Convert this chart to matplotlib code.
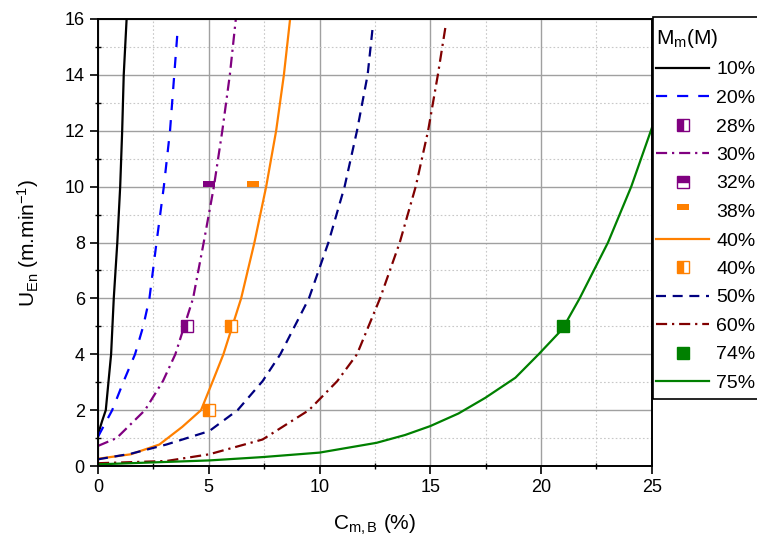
import matplotlib.pyplot as plt
from matplotlib.lines import Line2D
from matplotlib.patches import Rectangle

plt.rcParams['font.family'] = ['Liberation Sans', 'DejaVu Sans']
plt.rcParams['mathtext.fontset'] = 'custom'
plt.rcParams['mathtext.rm'] = 'Liberation Sans'
plt.rcParams['mathtext.it'] = 'Liberation Sans:italic'

# curves: C_m,B (%) vs U_En (m/min)
x10 = [0, 0.18, 0.35, 0.47, 0.59, 0.71, 0.87, 1.0, 1.09, 1.16, 1.29]
y10 = [1.13, 1.6, 2.0, 3.0, 4.0, 6.0, 8.0, 10.0, 12.0, 14.0, 16.0]

x20 = [0, 0.64, 1.16, 1.67, 2.04, 2.32, 2.64, 2.97, 3.25, 3.44, 3.6]
y20 = [1.05, 2.0, 3.04, 4.0, 5.0, 6.0, 8.0, 10.0, 12.0, 14.0, 15.67]

x30 = [0, 0.84, 2.12, 2.93, 3.49, 3.89, 4.29, 4.77, 5.23, 5.61, 5.95, 6.22]
y30 = [0.72, 1.0, 2.0, 3.04, 4.0, 5.0, 6.0, 8.0, 10.0, 12.0, 14.0, 16.0]

x40 = [0, 1.48, 2.77, 3.8, 4.65, 5.18, 5.66, 6.06, 6.46, 7.06, 7.59, 8.04, 8.39, 8.67]
y40 = [0.26, 0.42, 0.77, 1.4, 2.0, 3.04, 4.0, 5.0, 6.0, 8.0, 10.0, 12.0, 14.0, 16.0]

x50 = [0, 1.48, 3.09, 5.02, 6.3, 7.43, 8.23, 9.52, 10.4, 11.13, 11.69, 12.17, 12.41]
y50 = [0.24, 0.44, 0.77, 1.25, 2.0, 3.04, 4.0, 6.0, 8.0, 10.0, 12.0, 14.0, 15.79]

x60 = [0, 3.09, 5.02, 7.43, 9.52, 10.8, 11.69, 12.73, 13.62, 14.34, 14.9, 15.34, 15.71]
y60 = [0.1, 0.18, 0.42, 0.95, 2.0, 3.04, 4.0, 6.0, 8.0, 10.0, 12.0, 14.0, 15.85]

x75 = [0, 5.02, 7.43, 10, 12.57, 13.86, 15, 16.27, 17.48, 18.84, 19.89, 20.96, 21.74, 23.02, 24.07, 25]
y75 = [0.06, 0.2, 0.32, 0.48, 0.83, 1.11, 1.43, 1.88, 2.44, 3.16, 4.0, 4.9, 6.0, 8.0, 10.0, 12.1]

# measured points
x28, y28 = [4.0], [5.0]
x32, y32 = [5.02], [10.0]
x38, y38 = [7.0], [10.0]
x40p, y40p = [6.0, 5.0], [5.0, 2.0]
x74, y74 = [21.0], [5.0]

fig = plt.figure(figsize=(7.57, 5.41), dpi=100)
ax = fig.add_axes([0.1295, 0.1386, 0.7316, 0.8263])

lw = 1.6
ms = 8.5
ax.plot(x10, y10, color='black', lw=lw, label='10%')
ax.plot(x20, y20, color='#0000ff', lw=lw, ls=(0, (5, 4.5)), label='20%')
ax.plot(x28, y28, ls='none', marker='s', ms=ms, color='#800080', fillstyle='left',
        markerfacecoloralt='white', mec='#800080', mew=1, label='28%')
ax.plot(x30, y30, color='#800080', lw=lw, ls=(0, (5, 2.2, 1, 2.2)), label='30%')
ax.plot(x32, y32, ls='none', marker='s', ms=ms, color='#800080', fillstyle='top',
        markerfacecoloralt='none', mew=0, label='32%')
ax.plot(x38, y38, ls='none', marker='s', ms=ms, color='#ff8000', fillstyle='top',
        markerfacecoloralt='none', mew=0, label='38%')
ax.plot(x40, y40, color='#ff8000', lw=lw, label='40%')
ax.plot(x40p, y40p, ls='none', marker='s', ms=ms, color='#ff8000', fillstyle='left',
        markerfacecoloralt='white', mec='#ff8000', mew=1, label='40%')
ax.plot(x50, y50, color='#000080', lw=lw, ls=(0, (4.5, 3)), label='50%')
ax.plot(x60, y60, color='#800000', lw=lw, ls=(0, (5, 2.2, 1, 2.2)), label='60%')
ax.plot(x74, y74, ls='none', marker='s', ms=ms, color='#008000', mec='#008000', label='74%')
ax.plot(x75, y75, color='#008000', lw=lw, label='75%')

ax.set_xlim(0, 25)
ax.set_ylim(0, 16)
ax.set_xticks(range(0, 26, 5))
ax.set_xticks([2.5, 7.5, 12.5, 17.5, 22.5], minor=True)
ax.set_yticks(range(0, 17, 2))
ax.set_yticks(range(1, 16, 2), minor=True)
ax.grid(which='major', color='#a0a0a0', lw=1)
ax.grid(which='minor', color='#c8c8c8', lw=0.8, ls=(0, (1.5, 2)))
ax.set_axisbelow(True)
ax.tick_params(which='major', direction='out', length=6, width=1.2, labelsize=13)
ax.tick_params(which='minor', direction='inout', length=5, width=1.0)
for s in ax.spines.values():
    s.set_linewidth(1.4)

ax.set_xlabel(r'C$_{\mathrm{m,B}}$ (%)', fontsize=15, labelpad=12)
ax.set_ylabel(r'U$_{\mathrm{En}}$ (m.min$^{\mathrm{-1}}$)', fontsize=15, labelpad=17)

handles, labels = ax.get_legend_handles_labels()
# legend symbol for 32% shows the outline of the empty half
handles[4] = Line2D([], [], ls='none', marker='s', ms=ms, color='#800080', fillstyle='top',
                    markerfacecoloralt='white', mec='#800080', mew=1)
leg = fig.legend(handles, labels, title=r'M$_{\mathrm{m}}$(M)', loc='upper left',
                 bbox_to_anchor=(656 / 757, 1 - 27 / 541), fontsize=14, title_fontsize=15,
                 frameon=False, handlelength=2.73, handletextpad=0.36, labelspacing=0.56,
                 borderpad=0, borderaxespad=0, alignment='left')

# legend box runs past the right edge of the figure
fig.patches.append(Rectangle((653 / 757, 1 - 399 / 541), 0.3, (399 - 17) / 541,
                             transform=fig.transFigure, fill=False, ec='black', lw=1.2,
                             clip_on=False))

fig.savefig('out.png', dpi=100)
